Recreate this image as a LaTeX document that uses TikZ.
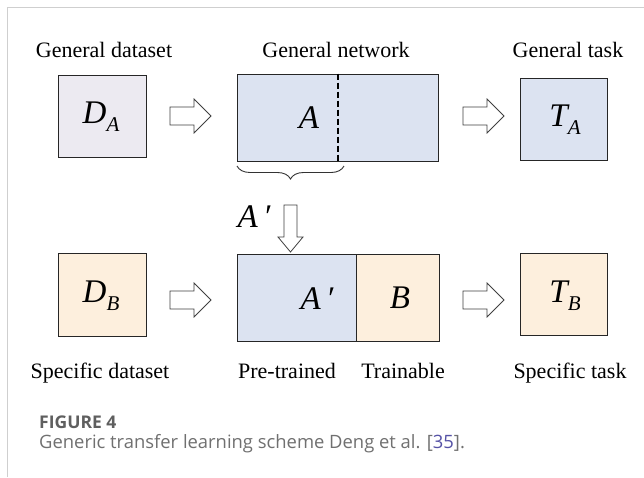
\documentclass[tikz,border=0pt]{standalone}
\usepackage{fontspec}
\setmainfont{Liberation Serif}
\newfontfamily\capfont{Open Sans}
\usetikzlibrary{decorations.pathreplacing}
\definecolor{fillgray}{HTML}{ECEAF1}
\definecolor{fillblue}{HTML}{DCE3F1}
\definecolor{fillpeach}{HTML}{FDEFDD}
\definecolor{framegray}{HTML}{CFCFCF}
\definecolor{capgray}{HTML}{707070}
\definecolor{capdark}{HTML}{5F5F5F}
\definecolor{refblue}{HTML}{5552A6}
\newcommand{\bigsym}[2]{{\fontsize{33}{33}\selectfont\itshape #1}\raisebox{-8pt}{\fontsize{21}{21}\selectfont\itshape #2}}
\newcommand{\bigit}[1]{{\fontsize{33}{33}\selectfont\itshape #1}}
\begin{document}
\begin{tikzpicture}[x=1pt,y=-1pt,
  box/.style={draw=black!85, line width=1pt, inner sep=0pt},
  lbl/.style={font=\fontsize{22}{22}\selectfont, anchor=base, inner sep=0pt},
  blockarrow/.style={draw=black!75, line width=0.8pt, fill=white}]
\useasboundingbox (0,0) rectangle (644,477);
\fill[white] (0,0) rectangle (644,477);
\draw[framegray, line width=1.2pt] (7.5,477) -- (7.5,7.5) -- (644,7.5);

% top row
\node[box, fill=fillgray, minimum width=88pt, minimum height=82pt] (da) at (102,116) {};
\node[box, fill=fillblue, minimum width=201pt, minimum height=87pt] (gn) at (337.5,117.5) {};
\node[box, fill=fillblue, minimum width=87pt, minimum height=82pt] (ta) at (563.5,119) {};
\draw[line width=2.8pt, dash pattern=on 6pt off 3pt] (gn.north -| 338,0) coordinate (dt) -- (gn.south -| 338,0) coordinate (db);

\node[inner sep=0pt] (datxt) at (101,117) {\bigsym{D}{A}};
\node[inner sep=0pt] (atxt) at (309,118) {\bigit{A}};
\node[inner sep=0pt] (tatxt) at (565,120) {\bigsym{T}{A}};

\node[lbl] (l1) at (104,57) {General dataset};
\node[lbl] (l2) at (336,57) {General network};
\node[lbl] (l3) at (568,57) {General task};

% bottom row
\node[box, fill=fillpeach, minimum width=88pt, minimum height=83pt] (db2) at (102,294.5) {};
\node[box, fill=fillblue, minimum width=119pt, minimum height=87pt] (ap) at (296.5,297.5) {};
\node[box, fill=fillpeach, minimum width=83pt, minimum height=87pt] (bb) at (397.5,297.5) {};
\node[box, fill=fillpeach, minimum width=87pt, minimum height=82pt] (tb) at (563.5,294) {};

\node[inner sep=0pt] (dbtxt) at (101,296) {\bigsym{D}{B}};
\node[inner sep=0pt] (aptxt) at (317,299) {\bigit{A\,\symbol{"2032}}};
\node[inner sep=0pt] (btxt) at (400,298) {\bigit{B}};
\node[inner sep=0pt] (tbtxt) at (565,296) {\bigsym{T}{B}};

\node[lbl] (l4) at (100,378) {Specific dataset};
\node[lbl] (l5) at (287,378) {Pre-trained};
\node[lbl] (l6) at (403,378) {Trainable};
\node[lbl] (l7) at (570,378) {Specific task};

% brace and down arrow
\coordinate (bl) at (237,166);
\coordinate (br) at (344,166);
\draw[black!80, line width=0.9pt, decorate, decoration={brace, amplitude=13pt}] (br) -- (bl);
\node[inner sep=0pt] (aplbl) at (254,217) {\bigit{A\,\symbol{"2032}}};
\draw[blockarrow] (284,205) -- (297,205) -- (297,237) -- (303,237) -- (290.5,252) -- (278,237) -- (284,237) -- cycle;

% right block arrows
\foreach \xx/\yy in {170/116, 463/116, 170/300, 463/300}{
  \draw[blockarrow] (\xx,\yy-9) -- (\xx+24,\yy-9) -- (\xx+24,\yy-17) -- (\xx+41,\yy) -- (\xx+24,\yy+17) -- (\xx+24,\yy+9) -- (\xx,\yy+9) -- cycle;
}

% caption
\node[anchor=base west, inner sep=0pt, text=capdark, font=\capfont\bfseries\fontsize{17.5}{18}\selectfont] (fig) at (39,428) {FIGURE 4};
\node[anchor=base west, inner sep=0pt, text=capgray, font=\capfont\fontsize{18.4}{18}\selectfont] (cap) at (39,448) {Generic transfer learning scheme Deng et al. [\textcolor{refblue}{35}].};
\end{tikzpicture}
\end{document}
